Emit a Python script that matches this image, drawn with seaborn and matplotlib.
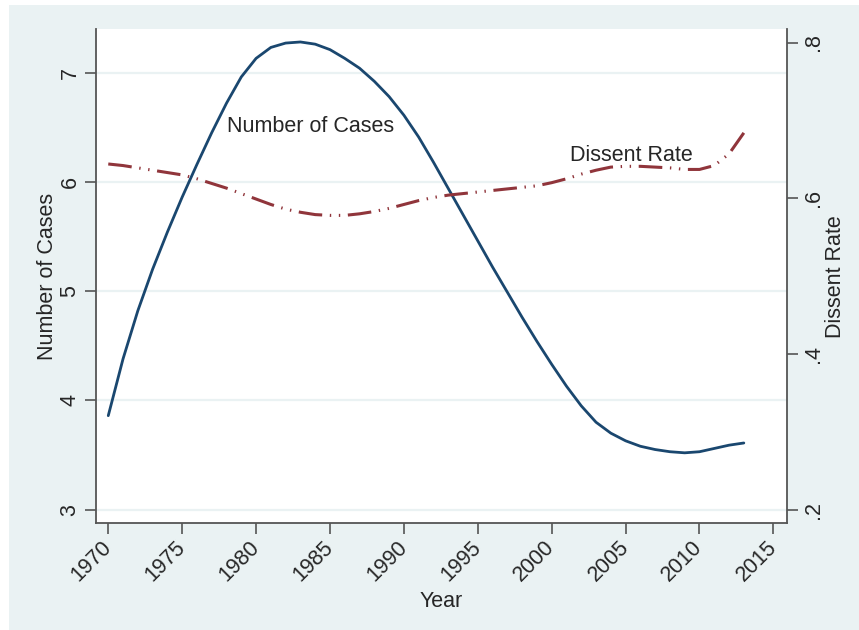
import numpy as np
import pandas as pd
import matplotlib
matplotlib.use("Agg")
import matplotlib.pyplot as plt
from matplotlib.patches import Rectangle
import seaborn as sns

years = list(range(1970, 2014))
cases = [3.86, 4.38, 4.82, 5.20, 5.54, 5.86, 6.16, 6.45, 6.72, 6.96,
         7.13, 7.23, 7.27, 7.28, 7.26, 7.21, 7.13, 7.04, 6.92, 6.78,
         6.61, 6.41, 6.18, 5.94, 5.70, 5.46, 5.22, 4.99, 4.76, 4.54,
         4.33, 4.13, 3.95, 3.80, 3.70, 3.63, 3.58, 3.55, 3.53, 3.52,
         3.53, 3.56, 3.59, 3.61]
dissent = [0.644, 0.642, 0.639, 0.636, 0.633, 0.630, 0.625, 0.619, 0.613, 0.606,
           0.599, 0.592, 0.586, 0.582, 0.579, 0.578, 0.578, 0.580, 0.583, 0.587,
           0.592, 0.597, 0.601, 0.604, 0.606, 0.608, 0.610, 0.612, 0.614, 0.616,
           0.620, 0.625, 0.631, 0.636, 0.640, 0.641, 0.641, 0.640, 0.639, 0.637,
           0.637, 0.642, 0.657, 0.684]

x_ticks = [1970, 1975, 1980, 1985, 1990, 1995, 2000, 2005, 2010, 2015]
x_tick_labels = [str(v) for v in x_ticks]
left_ticks = [3, 4, 5, 6, 7]
left_tick_labels = ["3", "4", "5", "6", "7"]
right_ticks = [0.2, 0.4, 0.6, 0.8]
right_tick_labels = [".2", ".4", ".6", ".8"]

sns.set_style("white")
plt.rcParams['font.family'] = ['Liberation Sans', 'DejaVu Sans']
plt.rcParams['lines.scale_dashes'] = False

BG = '#EAF2F3'
SPINE = '#555555'
FS = 15.5

fig = plt.figure(figsize=(8.59, 6.30), dpi=100, facecolor='white')
fig.patches.append(Rectangle((9 / 859, 0), 1, 625 / 630, transform=fig.transFigure,
                             facecolor=BG, edgecolor='none', zorder=-10))
ax = fig.add_axes([95.7 / 859, 1 - 523.3 / 630, (786.7 - 95.7) / 859, (523.3 - 29.3) / 630])
ax.set_facecolor('white')
ax2 = ax.twinx()

df = pd.DataFrame({'Year': years, 'Cases': cases, 'Dissent': dissent})
sns.lineplot(data=df, x='Year', y='Cases', ax=ax, color='#1a476f', linewidth=2.0)
sns.lineplot(data=df, x='Year', y='Dissent', ax=ax2, color='#90353b', linewidth=2.2)
ln = ax2.lines[0]
ln.set_dashes([17, 5.5, 1, 5.5, 1, 5.5])
ln.set_dash_capstyle('butt')

ax.set_xlim(1969.15, 2015.9)
ax.set_ylim(2.875, 7.396)
ax2.set_ylim(0.1825, 0.817)

ax.yaxis.grid(True, color=BG, linewidth=1.6)
ax.xaxis.grid(False)
ax2.grid(False)

for s in ['top', 'right']:
    ax.spines[s].set_visible(False)
for s in ['top', 'left', 'bottom']:
    ax2.spines[s].set_visible(False)
for s in ['left', 'bottom']:
    ax.spines[s].set_color(SPINE)
    ax.spines[s].set_linewidth(1.3)
ax2.spines['right'].set_color(SPINE)
ax2.spines['right'].set_linewidth(1.3)

ax.set_xticks(x_ticks, labels=x_tick_labels, rotation=45, ha='right',
              rotation_mode='anchor', va='center')
ax.set_yticks(left_ticks, labels=left_tick_labels, rotation=90, va='center')
ax2.set_yticks(right_ticks, labels=right_tick_labels, rotation=90, va='center')

ax.tick_params(axis='x', direction='out', length=8, width=1.2, color=SPINE,
               labelsize=FS, pad=7, bottom=True)
ax.tick_params(axis='y', direction='out', length=8, width=1.2, color=SPINE,
               labelsize=FS, pad=3, left=True)
ax2.tick_params(axis='y', direction='out', length=8, width=1.2, color=SPINE,
                labelsize=FS, pad=4, right=True)

ax.set_xlabel('Year', fontsize=FS, labelpad=4)
ax.set_ylabel('Number of Cases', fontsize=FS, labelpad=1)
ax2.set_ylabel('Dissent Rate', fontsize=FS, labelpad=0.5)

ax.text(1978.0, 6.506, 'Number of Cases', ha='left', va='center', fontsize=FS)
ax2.text(2001.24, 0.655, 'Dissent Rate', ha='left', va='center', fontsize=FS)

fig.savefig('out.png', dpi=100, facecolor=fig.get_facecolor())
